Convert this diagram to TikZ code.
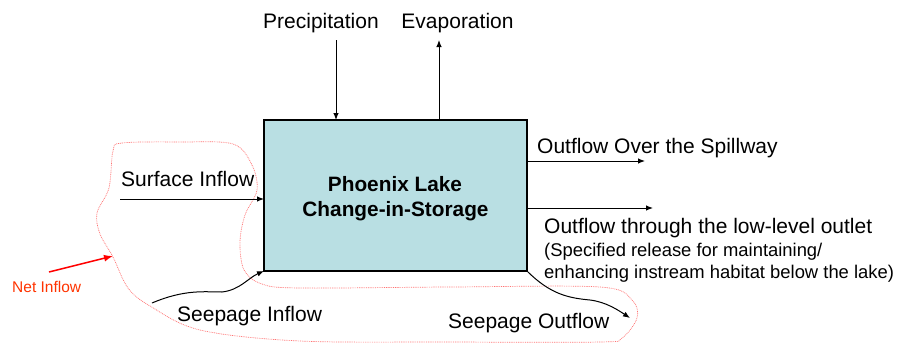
\documentclass[tikz,border=0pt]{standalone}
\usepackage{fontspec}
\setmainfont{Liberation Sans}
\usetikzlibrary{arrows.meta}
\definecolor{lakefill}{HTML}{B9DFE3}
\definecolor{netred}{HTML}{FF3300}
\tikzset{
  lbl/.style={inner sep=0pt, font=\fontsize{21}{25}\selectfont},
  sublbl/.style={inner sep=0pt, font=\fontsize{18.4}{22}\selectfont},
  arr/.style={line width=1pt, -{Latex[length=7pt,width=5.5pt]}},
  lakebox/.style={draw, line width=2.4pt, fill=lakefill, minimum width=263pt, minimum height=151pt, inner sep=0pt, outer sep=0pt},
  netline/.style={red!55, line width=0.7pt, dash pattern=on 0.9pt off 0.9pt},
}
\begin{document}
\begin{tikzpicture}[x=1pt,y=-1pt]
\useasboundingbox (0,0) rectangle (897,343);
% red dotted boundary of net inflow
\draw[netline] plot[smooth cycle, tension=0.55] coordinates {
 (113,151) (122,143) (180,142) (233,144) (252,165) (257,190) (245,215)
 (240,242) (244,270) (262,284) (300,288) (450,287) (600,287) (632,300)
 (637,318) (622,338) (600,342) (450,342) (300,341) (200,330) (150,306)
 (128,288) (113,257) (100,234) (97,213) (109,188)};
% box
\node[lakebox] (box) at (395.5,195.5) {};
\node[inner sep=0pt, anchor=base, font=\fontsize{20.8}{25}\selectfont\bfseries] (t1) at (395,191) {Phoenix Lake};
\node[inner sep=0pt, anchor=base, font=\fontsize{20.8}{25}\selectfont\bfseries] (t2) at (395.5,216) {Change-in-Storage};
% top labels
\node[lbl, anchor=base] (prec) at (321,28) {Precipitation};
\node[lbl, anchor=base] (evap) at (457.5,28) {Evaporation};
\coordinate (p0) at (336,40);
\coordinate (e1) at (439,40);
\draw[arr] (p0) -- (p0 |- box.north);
\draw[arr] (e1 |- box.north) -- (e1);
% surface inflow
\node[lbl, anchor=base west] (surf) at (121,186) {Surface Inflow};
\coordinate (s0) at (120,199);
\draw[arr] (s0) -- (s0 -| box.west);
% seepage inflow
\node[lbl, anchor=base west] (seepin) at (177,321) {Seepage Inflow};
\coordinate (si0) at (152,303);
\draw[arr] (si0) .. controls (185,289) and (205,292) .. (222,292)
  .. controls (240,290) and (248,278) .. (box.south west);
% outflows right
\node[lbl, anchor=base west] (spill) at (537,153) {Outflow Over the Spillway};
\coordinate (sp1) at (645,161);
\draw[arr] (sp1 -| box.east) -- (sp1);
\coordinate (lo1) at (653,208);
\draw[arr] (lo1 -| box.east) -- (lo1);
\node[lbl, anchor=base west] (low) at (544,233) {Outflow through the low-level outlet};
\node[sublbl, anchor=base west] (sub1) at (544,256) {(Specified release for maintaining/};
\node[sublbl, anchor=base west] (sub2) at (544,278) {enhancing instream habitat below the lake)};
% seepage outflow
\node[lbl, anchor=base west] (seepout) at (448,328) {Seepage Outflow};
\coordinate (so1) at (630,318);
\draw[arr] (box.south east) .. controls (550,294) and (568,298) .. (590,300)
  .. controls (606,302) and (618,310) .. (so1);
% net inflow
\node[inner sep=0pt, anchor=base west, text=netred, font=\fontsize{15.5}{18}\selectfont] (net) at (12,292) {Net Inflow};
\coordinate (n0) at (49,272);
\coordinate (n1) at (113,256);
\draw[red, line width=1.5pt, -{Latex[length=9pt,width=7pt]}] (n0) -- (n1);
\end{tikzpicture}
\end{document}
